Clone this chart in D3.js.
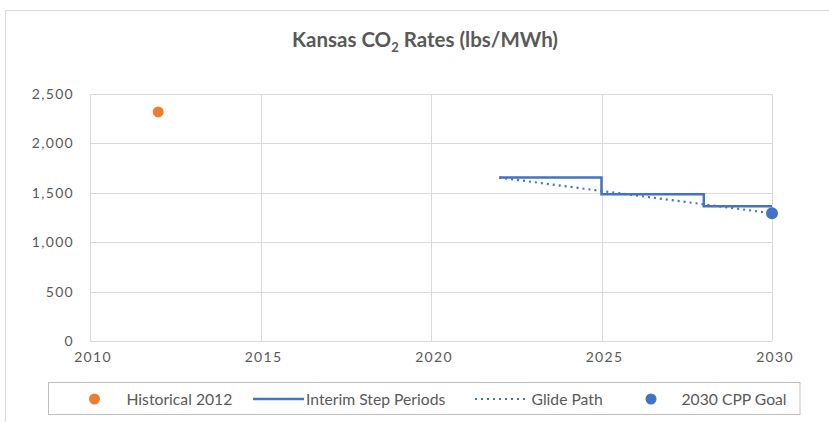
<!DOCTYPE html>
<html><head><meta charset="utf-8">
<script src="https://cdn.jsdelivr.net/npm/d3@7"></script>
<style>body{margin:0;background:#fff}svg{display:block}</style>
</head><body>
<svg id="c" width="829" height="422"></svg>
<script>
const xTicks = [2010, 2015, 2020, 2025, 2030];
const yTicks = [0, 500, 1000, 1500, 2000, 2500];
const historical = [{year: 2012, value: 2319}];
const stepYears = [2022, 2025, 2025, 2028, 2028, 2030];
const stepValues = [1654, 1654, 1485, 1485, 1365, 1365];
const glideYears = [2022, 2030];
const glideValues = [1654, 1293];
const goal = [{year: 2030, value: 1293}];
const legendLabels = ["Historical 2012", "Interim Step Periods", "Glide Path", "2030 CPP Goal"];

const svg = d3.select("#c");
const font = "Lato, 'Open Sans', sans-serif";
const orange = "#ED7D31", blue = "#4472C4", grid = "#d9d9d9", txt = "#595959";

svg.append("rect").attr("x",5.5).attr("y",10.5).attr("width",900).attr("height",500)
  .attr("fill","#fff").attr("stroke",grid);

const x = d3.scaleLinear().domain([2010,2030]).range([90,772]);
const y = d3.scaleLinear().domain([0,2500]).range([341,94]);

// gridlines
svg.append("g").selectAll("line").data(yTicks).join("line")
  .attr("x1",x(2010)).attr("x2",x(2030)).attr("y1",d=>Math.round(y(d))+0.5).attr("y2",d=>Math.round(y(d))+0.5)
  .attr("stroke",grid).attr("stroke-width",1);
svg.append("g").selectAll("line").data(xTicks).join("line")
  .attr("y1",y(0)).attr("y2",y(2500)).attr("x1",d=>Math.round(x(d))+0.5).attr("x2",d=>Math.round(x(d))+0.5)
  .attr("stroke",grid).attr("stroke-width",1);

// axes labels
const fmt = d3.format(",");
svg.append("g").selectAll("text").data(yTicks).join("text")
  .attr("x",74).attr("y",d=>y(d)+4.9).attr("text-anchor","end").attr("letter-spacing",1.3)
  .attr("font-family",font).attr("font-size",14).attr("fill",txt).text(d=>fmt(d));
svg.append("g").selectAll("text").data(xTicks).join("text")
  .attr("x",d=>x(d)+3).attr("y",362).attr("text-anchor","middle").attr("letter-spacing",1.3)
  .attr("font-family",font).attr("font-size",14).attr("fill",txt).text(d=>d);

// title
const title = svg.append("text").attr("x",425).attr("y",47).attr("text-anchor","middle")
  .attr("font-family",font).attr("font-size",20.5).attr("font-weight","bold").attr("fill",txt);
title.append("tspan").text("Kansas CO");
title.append("tspan").attr("font-size",13).attr("dy",4.5).text("2");
title.append("tspan").attr("dy",-4.5).text(" Rates (lbs/MWh)");

// glide path
const line = d3.line().x(d=>x(d[0])).y(d=>y(d[1]));
svg.append("path").datum(glideYears.map((yr,i)=>[yr,glideValues[i]]))
  .attr("d",line).attr("fill","none").attr("stroke",blue).attr("stroke-width",2.2)
  .attr("stroke-dasharray","2,4");
// step line
svg.append("path").datum(stepYears.map((yr,i)=>[yr,stepValues[i]]))
  .attr("d",line).attr("fill","none").attr("stroke",blue).attr("stroke-width",2.5);

svg.selectAll("circle.h").data(historical).join("circle").attr("class","h")
  .attr("cx",d=>x(d.year)).attr("cy",d=>y(d.value)).attr("r",5.5).attr("fill",orange);
svg.selectAll("circle.g").data(goal).join("circle").attr("class","g")
  .attr("cx",d=>x(d.year)).attr("cy",d=>y(d.value)).attr("r",6).attr("fill",blue);

// legend
const lg = svg.append("g");
lg.append("rect").attr("x",48.5).attr("y",382.5).attr("width",751.5).attr("height",32)
  .attr("fill","#fff").attr("stroke","#bfbfbf");
const ly = 399;
lg.append("circle").attr("cx",94.5).attr("cy",ly).attr("r",5.5).attr("fill",orange);
lg.append("line").attr("x1",253).attr("x2",304).attr("y1",ly).attr("y2",ly).attr("stroke",blue).attr("stroke-width",2.5);
lg.append("line").attr("x1",475).attr("x2",528).attr("y1",ly).attr("y2",ly).attr("stroke",blue).attr("stroke-width",2.2).attr("stroke-dasharray","2,4");
lg.append("circle").attr("cx",651).attr("cy",ly).attr("r",5.5).attr("fill",blue);
const lx = [126.5, 306, 531.5, 681.5];
lg.selectAll("text").data(legendLabels).join("text")
  .attr("x",(d,i)=>lx[i]).attr("y",ly+6).attr("font-family",font).attr("font-size",15.7)
  .attr("fill",txt).text(d=>d);
</script>
</body></html>
